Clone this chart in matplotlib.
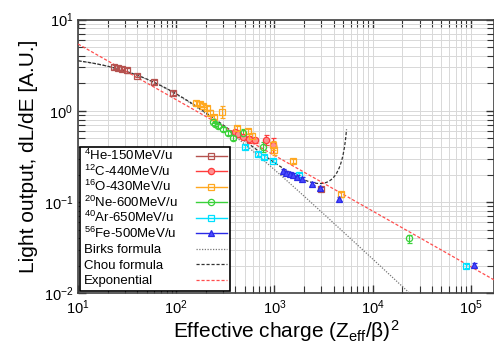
import numpy as np
import matplotlib
matplotlib.use('Agg')
import matplotlib.pyplot as plt
from matplotlib.lines import Line2D
from matplotlib.transforms import Bbox

plt.rcParams['font.family'] = ['Liberation Sans', 'DejaVu Sans']
plt.rcParams['mathtext.fontset'] = 'custom'
plt.rcParams['mathtext.rm'] = 'Liberation Sans'
plt.rcParams['mathtext.it'] = 'Liberation Sans:italic'
plt.rcParams['mathtext.bf'] = 'Liberation Sans:bold'

# measured points, x = (Zeff/beta)^2, y = dL/dE
he_x = [23.4, 25.7, 28.2, 31.7, 40, 59, 93, 2950]
he_y = [3.02, 2.94, 2.87, 2.77, 2.43, 2.07, 1.59, 0.138]
he_err = [0.15, 0.15, 0.15, 0.2, 0.1, 0.1, 0.08, 0.007]

c_x = [395, 429, 481, 553, 632, 811, 957]
c_y = [0.58, 0.552, 0.518, 0.487, 0.474, 0.48, 0.423]
c_err = [0.04, 0.04, 0.03, 0.04, 0.03, 0.06, 0.08]

o_x = [158, 174, 188, 204, 220, 244, 294, 411, 540, 593, 970, 985, 1530, 4730]
o_y = [1.22, 1.19, 1.14, 1.07, 0.96, 0.865, 0.98, 0.65, 0.60, 0.53, 0.42, 0.37, 0.284, 0.122]
o_err = [0.06, 0.05, 0.05, 0.05, 0.05, 0.04, 0.15, 0.04, 0.04, 0.04, 0.05, 0.04, 0.015, 0.008]

ne_x = [234, 248, 268, 301, 336, 380, 474, 767, 23400]
ne_y = [0.76, 0.72, 0.68, 0.63, 0.573, 0.51, 0.57, 0.406, 0.040]
ne_err = [0.03, 0.03, 0.03, 0.03, 0.03, 0.03, 0.06, 0.05, 0.004]

ar_x = [500, 683, 780, 970, 1780, 88500]
ar_y = [0.406, 0.337, 0.31, 0.284, 0.198, 0.0198]
ar_err = [0.02, 0.015, 0.015, 0.012, 0.01, 0.001]

fe_x = [1216, 1326, 1435, 1550, 1700, 1887, 2400, 2915, 4590, 106600]
fe_y = [0.221, 0.211, 0.206, 0.200, 0.191, 0.181, 0.160, 0.1415, 0.109, 0.0203]
fe_err = [0.008, 0.008, 0.008, 0.008, 0.008, 0.007, 0.006, 0.006, 0.005, 0.001]

# fit parameters
birks_s = 4.15
birks_kb = 0.0173
chou_c = 3.0e-6
chou_xmax = 5420
exp_a = 22.0
exp_b = -0.61

series = [
    ('$^{4}$He-150MeV/u', he_x, he_y, he_err, 's', '#b5524f', 'none'),
    ('$^{12}$C-440MeV/u', c_x, c_y, c_err, 'o', '#ff3c3c', '#ff9090'),
    ('$^{16}$O-430MeV/u', o_x, o_y, o_err, 's', '#ffa820', 'none'),
    ('$^{20}$Ne-600MeV/u', ne_x, ne_y, ne_err, 'o', '#3ad13a', 'none'),
    ('$^{40}$Ar-650MeV/u', ar_x, ar_y, ar_err, 's', '#00e0ff', 'none'),
    ('$^{56}$Fe-500MeV/u', fe_x, fe_y, fe_err, '^', '#2a2ae6', '#4a4aff'),
]

fig = plt.figure(figsize=(4.94, 3.44), dpi=100)
ax = fig.add_axes([0.158, 0.147, 0.842, 0.796])

handles = []
for label, x, y, err, mk, col, fc in series:
    ax.errorbar(x, y, yerr=err, fmt=mk, color=col, mfc=fc, mec=col, ms=4.5,
                mew=0.9, elinewidth=0.8, capsize=1.8, zorder=4)
    handles.append(Line2D([], [], color=col, marker=mk, mfc=fc, mec=col,
                          ms=4.5, mew=0.9, lw=1.0, label=label))

xb = np.logspace(1, 5.3, 300)
ax.plot(xb, birks_s / (1 + birks_kb * xb), color='#777777', lw=0.9,
        dashes=(1, 1.2), zorder=3)
xc = np.logspace(1, np.log10(chou_xmax), 300)
ax.plot(xc, birks_s / (1 + birks_kb * xc - chou_c * xc ** 2), color='#333333',
        lw=0.9, dashes=(2.5, 1.5), zorder=3)
xe = np.logspace(1, 5.3, 50)
ax.plot(xe, exp_a * xe ** exp_b, color='#ff4d4d', lw=0.9, dashes=(2.5, 1.5),
        zorder=3)

handles.append(Line2D([], [], color='#777777', lw=0.9, dashes=(1, 1.2), label='Birks formula'))
handles.append(Line2D([], [], color='#333333', lw=0.9, dashes=(2.5, 1.5), label='Chou formula'))
handles.append(Line2D([], [], color='#ff4d4d', lw=0.9, dashes=(2.5, 1.5), label='Exponential'))

ax.set_xscale('log')
ax.set_yscale('log')
ax.set_xlim(10, 1.72e5)
ax.set_ylim(0.01, 10)

ax.grid(True, which='both', color='#d8d8d8', lw=0.7)
ax.set_axisbelow(True)
ax.tick_params(which='both', direction='in', top=True, right=True,
               labelsize=10.5, color='#333333')
ax.tick_params(which='major', length=6, width=1.0)
ax.tick_params(which='minor', length=5, width=0.8)
for sp in ax.spines.values():
    sp.set_color('#404040')
    sp.set_linewidth(1.2)

ax.set_xlabel('Effective charge (Z$_{\\rm eff}$/\u03b2)$^{2}$', fontsize=15, labelpad=1)
ax.set_ylabel('Light output, dL/dE [A.U.]', fontsize=15, labelpad=4)

leg = ax.legend(handles=handles, loc='lower left', markerfirst=False,
                fontsize=9.5, handlelength=2.3, handletextpad=1.4,
                labelspacing=0.25, borderaxespad=0.15, borderpad=0.3,
                fancybox=False, framealpha=1, edgecolor='black')
leg.get_frame().set_linewidth(1.2)

# left-align the labels and give every row the same height
# (markerfirst=False right-aligns them, superscripts make rows taller)
rows = [r for col in leg._legend_handle_box.get_children() for r in col.get_children()]
text_boxes = [r.get_children()[0] for r in rows]
orig_bbox = [tb.get_bbox for tb in text_boxes]
plain_bbox = orig_bbox[-1]


def make_bbox(orig):
    def get_bbox(renderer):
        b = orig(renderer)
        p = plain_bbox(renderer)
        w = max(o(renderer).width for o in orig_bbox)
        return Bbox.from_bounds(b.x0, p.y0, w, p.height)
    return get_bbox


for tb, o in zip(text_boxes, orig_bbox):
    tb.get_bbox = make_bbox(o)

fig.savefig('out.png', dpi=100)
